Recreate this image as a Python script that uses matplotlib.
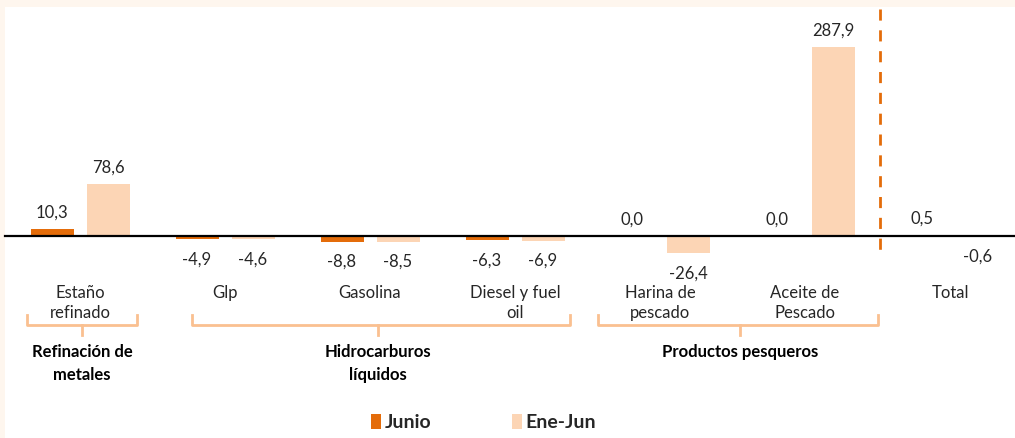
import numpy as np
import matplotlib.pyplot as plt
from matplotlib.patches import Rectangle

categorias = ["Estaño\nrefinado", "Glp", "Gasolina", "Diesel y fuel\noil",
              "Harina de\npescado", "Aceite de\nPescado", "Total"]
junio = [10.3, -4.9, -8.8, -6.3, 0.0, 0.0, 0.5]
ene_jun = [78.6, -4.6, -8.5, -6.9, -26.4, 287.9, -0.6]
grupos = ["Refinación de\nmetales", "Hidrocarburos\nlíquidos", "Productos pesqueros"]

c_junio = "#E46C0A"
c_enejun = "#FCD5B5"
c_llave = "#FAC090"
c_fondo = "#FEF6EE"

W, H = 1015, 439
fig = plt.figure(figsize=(W / 100, H / 100), dpi=100)
fig.patch.set_facecolor(c_fondo)
plt.rcParams['font.family'] = ['Lato', 'DejaVu Sans']


def fx(px):
    return px / W


def fy(py):
    return 1 - py / H


# white panel inside the cream frame
fig.add_artist(Rectangle((fx(5), 0), 1 - fx(5), fy(8), transform=fig.transFigure,
                         facecolor="white", edgecolor="none", zorder=-10))

ax = fig.add_axes([0, 0, 1, 1])
ax.set_facecolor("none")
ax.set_zorder(1)
esc = 0.6565
ax.set_xlim(-80 / 145, (W - 80) / 145)
ax.set_ylim((237 - H) / esc, 237 / esc)
ax.axis("off")

x = np.arange(len(categorias))
off = 28 / 145
ancho = 43 / 145
ax.bar(x - off, junio, ancho, color=c_junio, zorder=2)
ax.bar(x + off, ene_jun, ancho, color=c_enejun, zorder=2)

ax.axhline(0, xmin=fx(5), xmax=1, color="black", lw=1.6, zorder=3)

for xs, vals in [(x - off, junio), (x + off, ene_jun)]:
    for xi, v in zip(xs, vals):
        txt = f"{v:.1f}".replace(".", ",")
        if v >= 0:
            ax.annotate(txt, (xi, v), xytext=(0, 7), textcoords="offset points",
                        ha="center", va="bottom", fontsize=12, color="#262626")
        else:
            ax.annotate(txt, (xi, v), xytext=(0, -8), textcoords="offset points",
                        ha="center", va="top", fontsize=12, color="#262626")

# separator before Total
ax.plot([5.52, 5.52], [(237 - 10) / esc, (237 - 255) / esc], color=c_junio,
        lw=2, ls=(0, (4, 3.5)), zorder=3)

# category labels
for xi, lab in zip(x, categorias):
    ax.text(xi, (237 - 285) / esc, lab, ha="center", va="top", fontsize=12,
            color="#262626", linespacing=1.3)

# brackets for groups
llaves = [(27, 137, 82), (192, 570, 378), (598, 878, 740)]
for (x0, x1, xc), g in zip(llaves, grupos):
    fig.add_artist(plt.Line2D([fx(x0), fx(x0), fx(x1), fx(x1)],
                              [fy(316), fy(326), fy(326), fy(316)],
                              color=c_llave, lw=2, transform=fig.transFigure))
    fig.add_artist(plt.Line2D([fx(xc), fx(xc)], [fy(326), fy(336)],
                              color=c_llave, lw=2, transform=fig.transFigure))
    fig.text(fx(xc), fy(344), g, ha="center", va="top", fontsize=12,
             fontweight="bold", color="black", linespacing=1.55)

# legend
fig.add_artist(Rectangle((fx(371), fy(430)), fx(10), 15 / H, transform=fig.transFigure,
                         facecolor=c_junio, edgecolor="none"))
fig.text(fx(385), fy(423), "Junio", ha="left", va="center", fontsize=14,
         fontweight="bold", color="#262626")
fig.add_artist(Rectangle((fx(512), fy(430)), fx(10), 15 / H, transform=fig.transFigure,
                         facecolor=c_enejun, edgecolor="none"))
fig.text(fx(525), fy(423), "Ene-Jun", ha="left", va="center", fontsize=14,
         fontweight="bold", color="#262626")

fig.savefig("out.png", dpi=100, facecolor=fig.get_facecolor())
